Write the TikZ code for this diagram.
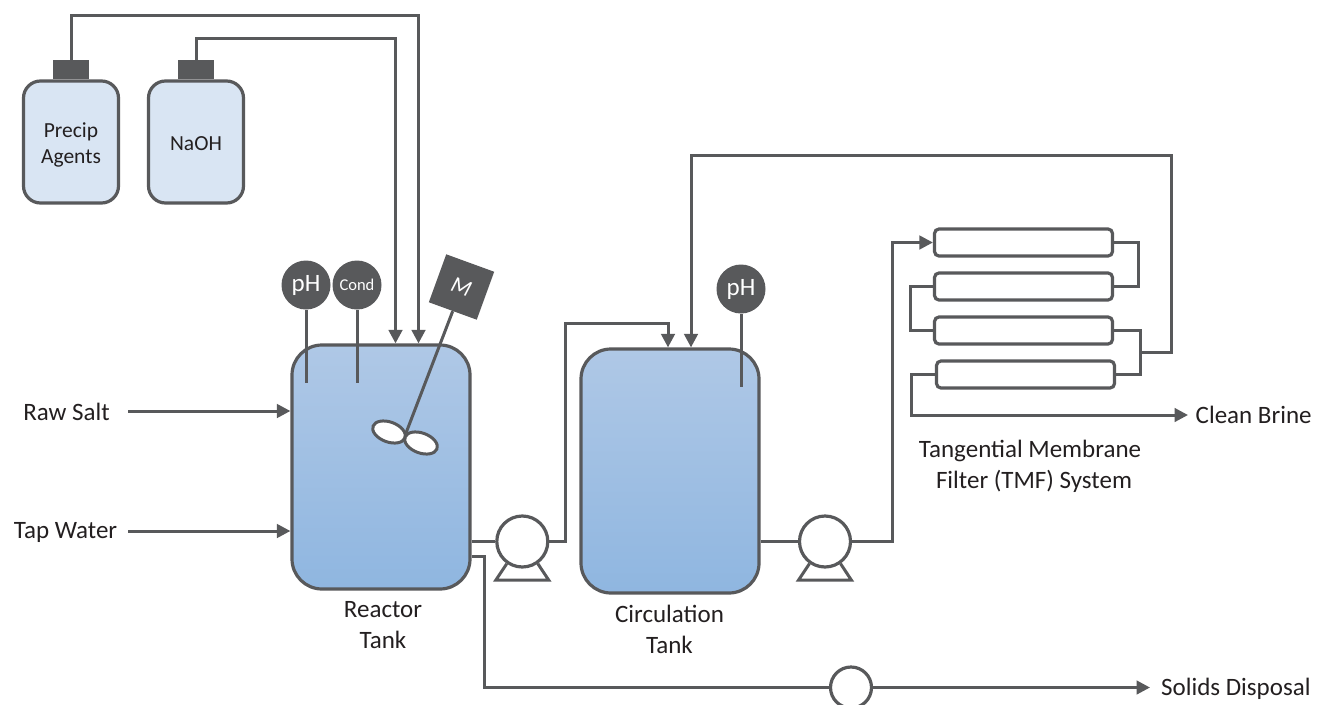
\documentclass[tikz,border=0pt]{standalone}
\usepackage{fontspec}
\setmainfont{Carlito}
\usetikzlibrary{arrows.meta,shapes.geometric}
\definecolor{ink}{HTML}{58595B}
\definecolor{bottlefill}{HTML}{D9E5F3}
\definecolor{tanktop}{HTML}{AFC8E6}
\definecolor{tankbot}{HTML}{8FB6E0}
\definecolor{txt}{HTML}{231F20}
\tikzset{
  x=1pt,y=-1pt,
  pipe/.style={draw=ink,line width=3pt,line join=miter},
  flow/.style={pipe,-{Triangle[length=13.5pt,width=13.5pt]}},
  bottle/.style={draw=ink,line width=3.2pt,fill=bottlefill,rounded corners=17pt,minimum width=95pt,minimum height=122pt,inner sep=0pt},
  bottlecap/.style={fill=ink,minimum width=36pt,minimum height=19pt,inner sep=0pt},
  tank/.style={draw=ink,line width=3.2pt,top color=tanktop,bottom color=tankbot,rounded corners=30pt,minimum width=178pt,minimum height=244pt,inner sep=0pt},
  sensor/.style={circle,fill=ink,minimum size=49pt,inner sep=0pt,text=white},
  pumpbody/.style={circle,draw=ink,line width=3.2pt,fill=white,minimum size=51pt,inner sep=0pt},
  valve/.style={circle,draw=ink,line width=3.2pt,fill=white,minimum size=41pt,inner sep=0pt},
  blade/.style={ellipse,draw=ink,line width=3pt,fill=white,minimum width=34pt,minimum height=20pt,inner sep=0pt,rotate=-20},
  module/.style={draw=ink,line width=3.2pt,fill=white,rounded corners=4.5pt,minimum width=178pt,minimum height=27pt,inner sep=0pt},
  lab/.style={font=\fontsize{25}{31}\selectfont,text=txt,align=center,inner sep=0pt},
  smalllab/.style={font=\fontsize{21.5}{26}\selectfont,text=txt,inner sep=0pt,anchor=base},
}
\begin{document}
\begin{tikzpicture}
\useasboundingbox (0,0) rectangle (1324,704);
\clip (0,0) rectangle (1324,704);
\fill[white] (0,0) rectangle (1324,704);

% bottles
\node[bottle] (precip) at (71,142) {};
\node[bottle] (naoh) at (196,142) {};
\node[bottlecap,anchor=south] (capa) at (precip.north) {};
\node[bottlecap,anchor=south] (capb) at (naoh.north) {};
\node[smalllab] (precipa) at (71,137) {Precip};
\node[smalllab] (precipb) at (71,163) {Agents};
\node[smalllab] (naohlab) at (196,150) {NaOH};

% tanks
\node[tank] (reactor) at (381,467) {};
\node[tank] (circ) at (670,471) {};

% sensors and motor
\node[sensor,font=\fontsize{25}{25}\selectfont] (ph1) at (306,285) {pH};
\node[sensor,font=\fontsize{16.5}{16.5}\selectfont] (cond) at (357,285) {Cond};
\node[sensor,font=\fontsize{25}{25}\selectfont] (ph2) at (741,289) {pH};
\node[fill=ink,minimum size=51pt,inner sep=0pt,rotate=-20,text=white,font=\fontsize{23}{23}\selectfont\itshape] (motor) at (461.5,287) {M};
\coordinate (ph1end) at (306,383);
\coordinate (condend) at (357,383);
\coordinate (ph2end) at (741,387);
\coordinate (hub) at (406,433);
\draw[pipe] (ph1.south) -- (ph1end);
\draw[pipe] (cond.south) -- (condend);
\draw[pipe] (ph2.south) -- (ph2end);
\draw[pipe] (motor.south) -- (hub);
\node[blade] (bladea) at (389,432) {};
\node[blade] (bladeb) at (421,443) {};

% reagent feeds
\coordinate (feedb) at (395.5,38);
\coordinate (feeda) at (418.5,15);
\draw[flow] (capb.north) |- (feedb) -- (feedb |- reactor.north);
\draw[flow] (capa.north) |- (feeda) -- (feeda |- reactor.north);

% inlets
\node[lab,anchor=base] (rawsalt) at (66.5,420) {Raw Salt};
\node[lab,anchor=base] (tapwater) at (65.5,538) {Tap Water};
\coordinate (rawstart) at (128,411);
\coordinate (tapstart) at (128,531);
\draw[flow] (rawstart) -- (reactor.west |- rawstart);
\draw[flow] (tapstart) -- (reactor.west |- tapstart);

% pump 1
\node[pumpbody] (pumpa) at (522.3,541.5) {};
\draw[pipe] (pumpa.-125) -- ++(-11,16.5) -- ++(53,0) -- (pumpa.-55);
\coordinate (risea) at (565,323);
\coordinate (ina) at (668,323);
\draw[pipe] (reactor.east |- pumpa.west) -- (pumpa.west);
\draw[flow] (pumpa.east) -| (risea) -- (ina) -- (ina |- circ.north);

% pump 2
\node[pumpbody] (pumpb) at (825,541.5) {};
\draw[pipe] (pumpb.-125) -- ++(-11,16.5) -- ++(53,0) -- (pumpb.-55);
\coordinate (riseb) at (892,242.5);
\draw[pipe] (circ.east |- pumpb.west) -- (pumpb.west);

% filter modules
\node[module] (ma) at (1023.5,242.5) {};
\node[module] (mb) at (1023.5,286.5) {};
\node[module] (mc) at (1023.5,330.5) {};
\node[module] (md) at (1025.5,374.5) {};
\draw[flow] (pumpb.east) -| (riseb) -- (ma.west);
\coordinate (ra) at (1138,242.5);
\coordinate (la) at (910,286.5);
\coordinate (rb) at (1140,330.5);
\coordinate (lb) at (911.5,415);
\coordinate (junction) at (1140,352);
\coordinate (backa) at (1171,155);
\coordinate (backb) at (691,155);
\draw[pipe] (ma.east) -- (ra) |- (mb.east);
\draw[pipe] (mb.west) -- (la) |- (mc.west);
\draw[pipe] (mc.east) -- (rb) |- (md.east);
\draw[flow] (junction) -| (backa) -- (backb) -- (backb |- circ.north);
\node[lab,anchor=base west] (brine) at (1195.5,423) {Clean Brine};
\coordinate (brinetip) at (1188,415);
\draw[flow] (md.west) -| (lb) -- (brinetip);

% solids line
\node[valve] (valvea) at (851,687.5) {};
\node[lab,anchor=base west] (solids) at (1161,695) {Solids Disposal};
\coordinate (outa) at (484,556);
\coordinate (outb) at (484,687.5);
\coordinate (solidstip) at (1150,687.5);
\draw[pipe] (reactor.east |- outa) -- (outa) -- (outb) -- (valvea.west);
\draw[flow] (valvea.east) -- (solidstip);

% labels
\node[lab] (reactorlab) at (383,625.5) {Reactor\\Tank};
\node[lab] (circlab) at (669.5,629) {Circulation\\Tank};
\node[lab,anchor=base] (tmfa) at (1030,457) {Tangential Membrane};
\node[lab,anchor=base] (tmfb) at (1034,488) {Filter (TMF) System};
\end{tikzpicture}
\end{document}
